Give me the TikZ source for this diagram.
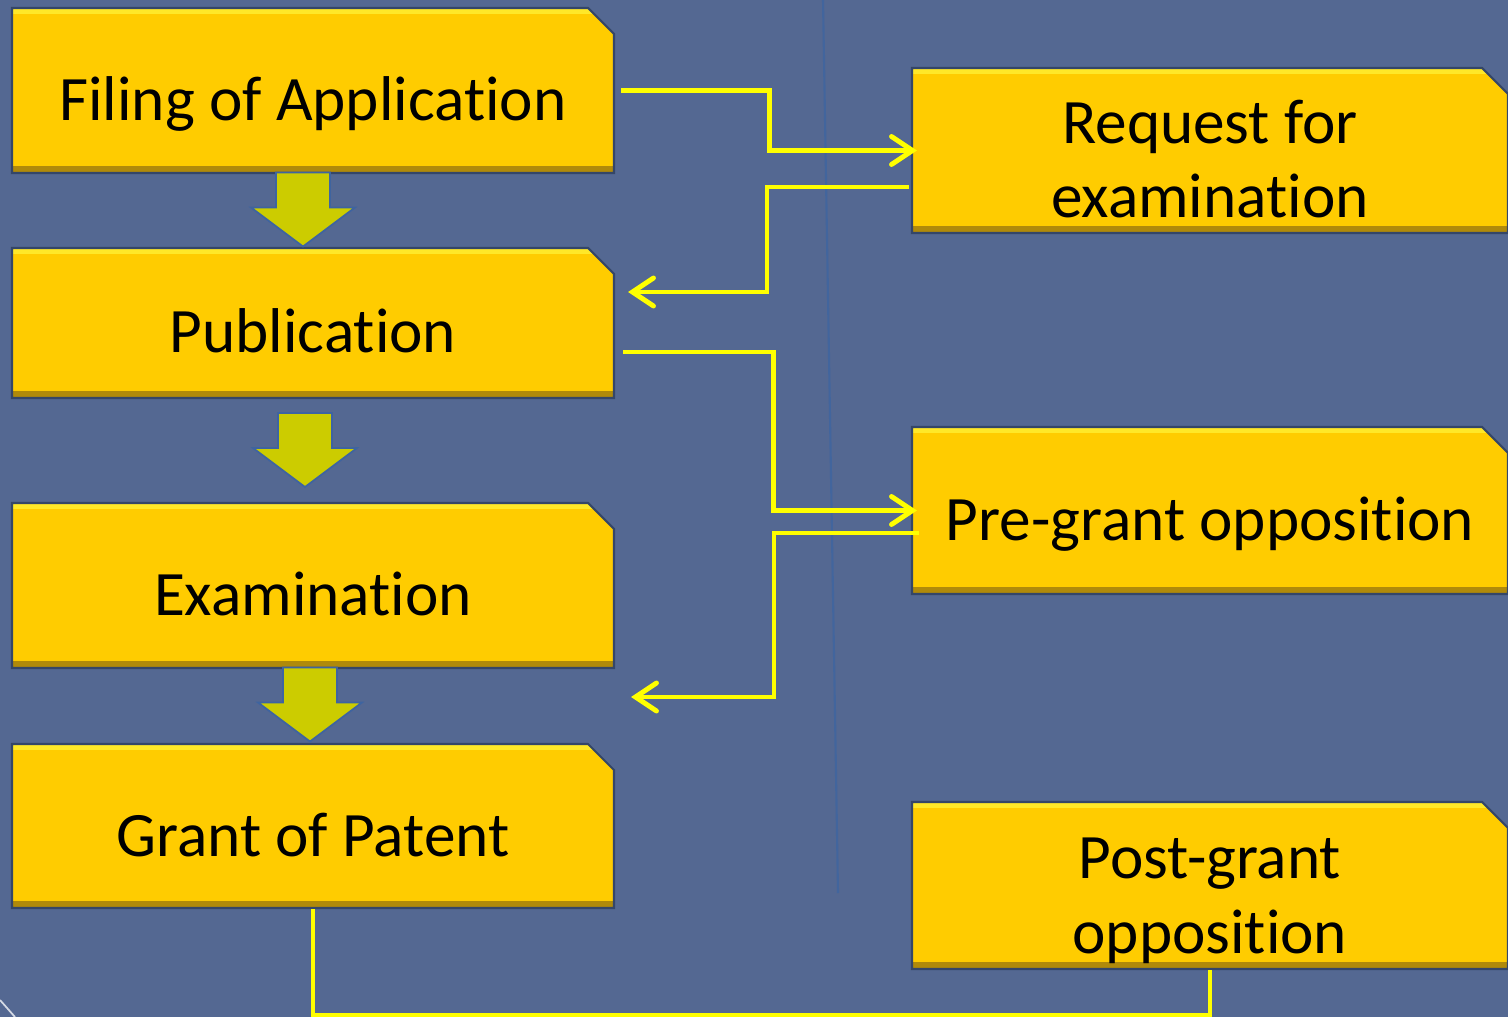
\documentclass[tikz,border=0pt]{standalone}
\usepackage{fontspec}
\setmainfont{Carlito}[Ligatures=NoCommon]
\usepackage{tikz}
\usetikzlibrary{arrows.meta,positioning,shapes.misc,calc}
\definecolor{SlateBg}{RGB}{84,104,146}
\definecolor{StageFill}{RGB}{255,204,0}
\definecolor{StageHi}{RGB}{255,232,40}
\definecolor{StageLo}{RGB}{176,138,10}
\definecolor{StageEdge}{RGB}{52,70,104}
\definecolor{FlowYellow}{RGB}{255,255,0}
\definecolor{BlockFill}{RGB}{204,204,0}
\definecolor{BlockEdge}{RGB}{62,100,160}

\begin{document}
\begin{tikzpicture}[
  stage/.style={
    chamfered rectangle,
    chamfered rectangle corners=north east,
    chamfered rectangle sep=0.13cm,
    draw=StageEdge,
    fill=StageFill,
    line width=0.6pt,
    align=center,
    inner sep=0pt,
    path picture={
      \fill[StageHi] ([yshift=-0.06cm]path picture bounding box.north west)
        rectangle (path picture bounding box.north east);
      \fill[StageLo] (path picture bounding box.south west)
        rectangle ([yshift=0.07cm]path picture bounding box.south east);
    }
  },
  oneline/.style={text height=0.75cm, text depth=0.15cm},
  twoline/.style={text height=1.36cm, text depth=0.01cm},
  flow/.style={draw=FlowYellow, line width=1.4pt},
  arrow/.style={flow, -{Straight Barb[length=2.1mm,width=2.8mm,line cap=round]}},
  blockarrow/.style={draw=BlockEdge, fill=BlockFill, line width=0.5pt},
  font=\fontsize{18}{21.3}\selectfont
]
\fill[SlateBg] (0,0) rectangle (15.08,-10.17);
\useasboundingbox (0,0) rectangle (15.08,-10.17);
\draw[BlockEdge!80!SlateBg, line width=0.6pt] (8.23,0) -- (8.38,-8.93);
\draw[white!75!SlateBg, line width=0.5pt] (0,-10.00) -- (0.15,-10.17);

% left column
\node[stage, oneline, minimum width=6.02cm, minimum height=1.65cm] (filing) at (3.13,-0.905) {Filing of Application};
\node[stage, oneline, minimum width=6.02cm, minimum height=1.50cm] (publication) at (3.13,-3.23) {Publication};
\node[stage, oneline, minimum width=6.02cm, minimum height=1.65cm] (examination) at (3.13,-5.855) {Examination};
\node[stage, oneline, minimum width=6.02cm, minimum height=1.64cm] (grant) at (3.13,-8.26) {Grant of Patent};

% right column
\node[stage, twoline, minimum width=5.96cm, minimum height=1.65cm] (request) at (12.10,-1.505) {Request for\\examination};
\node[stage, oneline, minimum width=5.96cm, minimum height=1.67cm] (pregrant) at (12.10,-5.105) {Pre-grant opposition};
\node[stage, twoline, minimum width=5.96cm, minimum height=1.67cm] (postgrant) at (12.10,-8.855) {Post-grant\\opposition};

% block arrows between stages
\foreach \ax/\ay in {3.03/-2.095, 3.05/-4.50, 3.10/-7.045}
  \draw[blockarrow, shift={(\ax,\ay)}] (-0.27,0.37) -- (0.27,0.37) -- (0.27,0.02)
    -- (0.52,0.02) -- (0,-0.37) -- (-0.52,0.02) -- (-0.27,0.02) -- cycle;

% side connectors
\draw[arrow] ([xshift=0.06cm]filing.east) -- ++(1.48,0)
  |- ([xshift=0.06cm]request.west);
\draw[arrow] ([xshift=-0.02cm,yshift=-0.365cm]request.west) -- ++(-1.42,0)
  |- ([xshift=0.13cm,yshift=0.31cm]publication.east);
\draw[arrow] ([xshift=0.08cm,yshift=-0.29cm]publication.east) -- ++(1.50,0)
  |- ([xshift=0.06cm]pregrant.west);
\draw[arrow] ([xshift=0.08cm,yshift=-0.225cm]pregrant.west) -- ++(-1.45,0)
  |- ([xshift=0.16cm,yshift=-1.115cm]examination.east);
\draw[flow] (grant.south) -- ++(0,-1.06) -| (postgrant.south);
\end{tikzpicture}
\end{document}
